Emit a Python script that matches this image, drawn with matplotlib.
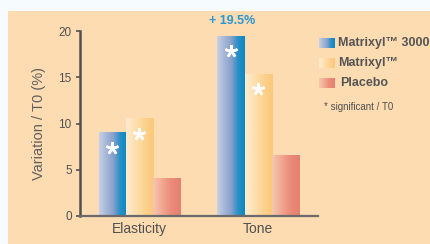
import matplotlib
matplotlib.use("Agg")
import matplotlib.pyplot as plt
import numpy as np
from matplotlib.colors import LinearSegmentedColormap
from matplotlib.patches import Rectangle

plt.rcParams['font.family'] = ['Liberation Sans', 'DejaVu Sans']

categories = ["Elasticity", "Tone"]
series_names = ["Matrixyl\u2122 3000", "Matrixyl\u2122", "Placebo"]
values = {
    "Matrixyl\u2122 3000": [9.1, 19.5],
    "Matrixyl\u2122": [10.6, 15.4],
    "Placebo": [4.1, 6.6],
}
significant = {
    "Matrixyl\u2122 3000": [True, True],
    "Matrixyl\u2122": [True, True],
    "Placebo": [False, False],
}
yticks = [0, 5, 10, 15, 20]
annotation = "+ 19.5%"

grad_colors = {
    "Matrixyl\u2122 3000": ["#c8d2e6", "#a8b8d8", "#8aa2cc", "#2a90c8", "#0a88c0"],
    "Matrixyl\u2122": ["#feecd0", "#fee0b0", "#fdd290", "#fcc878"],
    "Placebo": ["#f6c8b0", "#f2a890", "#ea8a78", "#e68070"],
}
cmaps = {k: LinearSegmentedColormap.from_list(k, v) for k, v in grad_colors.items()}

W, H = 431, 244
fig = plt.figure(figsize=(W / 100, H / 100), dpi=100, facecolor="#f6fcfe")

# background panel
bg = fig.add_axes([0, 0, 1, 1])
bg.set_xlim(0, W)
bg.set_ylim(H, 0)
bg.axis("off")
bg.add_patch(Rectangle((8, 11), W - 8, H - 11, facecolor="#fddcb2", edgecolor="none"))

ax_l, ax_r, ax_t, ax_b = 80, 318, 31, 216
ax = fig.add_axes([ax_l / W, (H - ax_b) / H, (ax_r - ax_l) / W, (ax_b - ax_t) / H])
ax.patch.set_alpha(0)

grad = np.linspace(0, 1, 256).reshape(1, -1)
width = 0.228
x = np.arange(len(categories))
for i, name in enumerate(series_names):
    offs = (i - 1) * width
    bars = ax.bar(x + offs, values[name], width, facecolor="none", edgecolor="none")
    for j, b in enumerate(bars):
        x0 = b.get_x()
        im = ax.imshow(grad, cmap=cmaps[name], aspect="auto",
                       extent=[x0, x0 + width, 0, b.get_height()], zorder=2)
        im.set_clip_path(b)
        if significant[name][j]:
            ax.plot(x0 + width / 2, b.get_height() - 1.7, marker=(5, 2, 0),
                    markersize=9, mew=1.8, color="white", zorder=3)

ax.set_xlim(-0.502, 1.506)
ax.set_ylim(0, 20)
ax.set_yticks(yticks)
ax.set_yticklabels([str(t) for t in yticks], fontsize=8.5, color="#505050")
ax.set_xticks(x)
ax.set_xticklabels(categories, fontsize=10, color="#505050")
ax.tick_params(axis="x", length=0, pad=4)
ax.tick_params(axis="y", length=3, width=1.2, color="#505050", pad=3, direction="out")
for s in ["top", "right"]:
    ax.spines[s].set_visible(False)
ax.spines["left"].set_color("#505050")
ax.spines["left"].set_linewidth(1.8)
ax.spines["bottom"].set_color("#6a6a6a")
ax.spines["bottom"].set_linewidth(1.6)
ax.set_ylabel("Variation / T0 (%)", fontsize=10.5, color="#606060", labelpad=9)

# annotation above Tone blue bar
ax.text(0.78, values[series_names[0]][1] + 0.9, annotation,
        ha="center", va="bottom", fontsize=9, color="#2a96d2", fontweight="bold")

# legend
ly = [43, 63, 83]
for name, yy in zip(series_names, ly):
    bg.imshow(grad, cmap=cmaps[name], aspect="auto",
              extent=[319, 335, yy + 5, yy - 5], zorder=2)
    bg.text(338 if name != "Placebo" else 340, yy, name, fontsize=9, color="#555555",
            va="center", ha="left", fontweight="bold")
bg.set_xlim(0, W)
bg.set_ylim(H, 0)
bg.text(324, 107, "* significant / T0", fontsize=7, color="#505050", va="center", ha="left")

fig.savefig("out.png", dpi=100, facecolor=fig.get_facecolor())
